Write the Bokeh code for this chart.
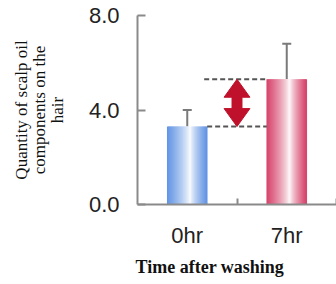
from bokeh.plotting import figure
from bokeh.models import Range1d, FixedTicker, Whisker, TeeHead, ColumnDataSource, Title
from bokeh.embed import file_html
from bokeh.resources import INLINE

# ---- data ----
categories = ["0hr", "7hr"]
values = [3.3, 5.3]
errors = [0.7, 1.5]
y_ticks = [0, 4, 8]
y_tick_labels = ["0.0", "4.0", "8.0"]
x_title = "Time after washing"
y_title = "Quantity of scalp oil\ncomponents on the\nhair"

edge_colors = [(98, 148, 228), (214, 66, 106)]
bar_width = 0.4
white_pos = 0.58

p = figure(width=336, height=284, output_backend="svg", toolbar_location=None,
           x_range=Range1d(-0.5, len(categories) - 0.5), y_range=Range1d(0, 8),
           min_border_left=137, min_border_right=0, min_border_top=15, min_border_bottom=80)
p.outline_line_color = None
p.xgrid.visible = False
p.ygrid.visible = False
p.background_fill_color = "white"
p.border_fill_color = "white"

# gradient bars made of thin strips
N = 40
sx, st, sc = [], [], []
for i, (v, ec) in enumerate(zip(values, edge_colors)):
    for k in range(N):
        f = (k + 0.5) / N
        if f < white_pos:
            t = (white_pos - f) / white_pos
        else:
            t = (f - white_pos) / (1 - white_pos)
        t = min(1.0, t ** 0.75)
        r = int(255 + (ec[0] - 255) * t)
        g = int(255 + (ec[1] - 255) * t)
        b = int(255 + (ec[2] - 255) * t)
        sx.append(i - bar_width / 2 + f * bar_width)
        st.append(v)
        sc.append("#%02x%02x%02x" % (r, g, b))
p.vbar(x=sx, top=st, bottom=0, width=bar_width / N * 1.8, fill_color=sc, line_color=None)

# error bars (upper only)
src = ColumnDataSource(dict(x=list(range(len(values))), lo=values,
                            hi=[v + e for v, e in zip(values, errors)]))
wh = Whisker(base="x", lower="lo", upper="hi", source=src, dimension="height",
             line_color="#7a7a7a", line_width=2,
             upper_head=TeeHead(size=9, line_color="#7a7a7a", line_width=2), lower_head=None)
p.add_layout(wh)

# dashed guide lines between bars
x0 = 0 + bar_width / 2
x1 = 1 - bar_width / 2
p.segment(x0=[x0 - 0.03, x0], y0=[values[1], values[0]], x1=[x1, x1], y1=[values[1], values[0]],
          line_color="#555555", line_width=2, line_dash="5 3")

# double-headed red arrow
c = 0.5
hw, sw, hh = 0.13, 0.05, 0.76
y0, y1 = values[0], values[1]
xs = [c, c + hw, c + sw, c + sw, c + hw, c, c - hw, c - sw, c - sw, c - hw]
ys = [y1, y1 - hh, y1 - hh, y0 + hh, y0 + hh, y0, y0 + hh, y0 + hh, y1 - hh, y1 - hh]
p.patch(xs, ys, fill_color="#c0112c", line_color="#c0112c", line_width=1)

# axes
ya = p.yaxis[0]
ya.ticker = FixedTicker(ticks=y_ticks)
ya.major_label_overrides = {t: l for t, l in zip(y_ticks, y_tick_labels)}
ya.major_label_text_font = "Liberation Sans"
ya.major_label_text_font_size = "22px"
ya.major_label_text_color = "#222222"
ya.major_label_standoff = 18
ya.major_tick_in = 8
ya.major_tick_out = 0
ya.minor_tick_line_color = None
ya.axis_line_color = "#8a8a8a"
ya.axis_line_width = 2
ya.major_tick_line_color = "#8a8a8a"
ya.major_tick_line_width = 2
ya.axis_label = y_title
ya.axis_label_text_font = "Liberation Serif"
ya.axis_label_text_font_style = "normal"
ya.axis_label_text_font_size = "17px"
ya.axis_label_text_color = "#111111"
ya.axis_label_standoff = 19
ya.axis_label_text_line_height = 0.95

xa = p.xaxis[0]
xa.ticker = FixedTicker(ticks=list(range(len(categories))),
                        minor_ticks=[i + 0.5 for i in range(len(categories))])
xa.major_label_overrides = {i: l for i, l in enumerate(categories)}
xa.major_label_text_font = "Liberation Sans"
xa.major_label_text_font_size = "22px"
xa.major_label_text_color = "#222222"
xa.major_label_standoff = 12
xa.major_tick_line_color = None
xa.minor_tick_in = 6
xa.minor_tick_out = 0
xa.minor_tick_line_color = "#8a8a8a"
xa.minor_tick_line_width = 2
xa.axis_line_color = "#8a8a8a"
xa.axis_line_width = 2

xt = Title(text=x_title, align="left", offset=-2, standoff=8,
           text_font="Liberation Serif", text_font_style="bold",
           text_font_size="18px", text_color="#111111")
p.add_layout(xt, "below")

open("out.html", "w").write(file_html(p, INLINE))
